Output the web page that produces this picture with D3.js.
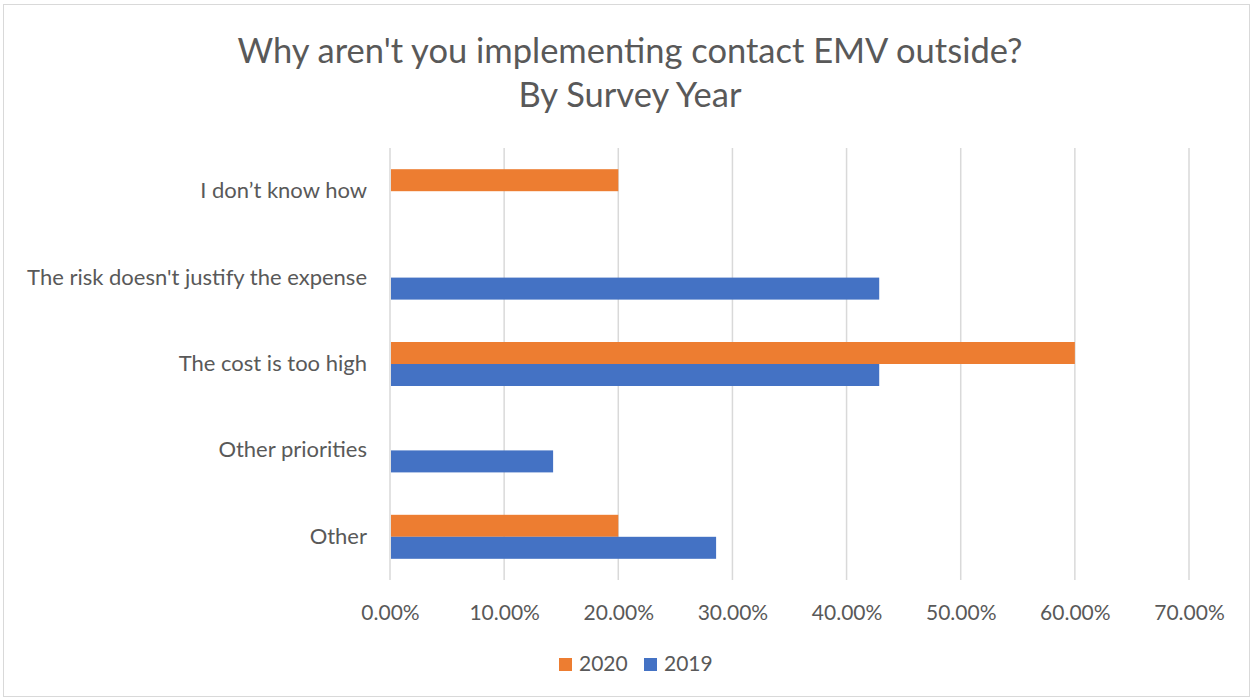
<!DOCTYPE html>
<html><head><meta charset="utf-8">
<script src="https://cdn.jsdelivr.net/npm/d3@7"></script>
<style>body{margin:0;background:#fff}svg{display:block;font-family:Lato,"Open Sans",sans-serif}</style>
</head><body><svg id="c" width="1253" height="700"></svg>
<script>
const categories = ["I don\u2019t know how","The risk doesn't justify the expense","The cost is too high","Other priorities","Other"];
const series = ["2020","2019"];
const values2020 = [0.20, 0, 0.60, 0, 0.20];
const values2019 = [0, 0.4286, 0.4286, 0.1429, 0.2857];
const xTicks = [0,0.1,0.2,0.3,0.4,0.5,0.6,0.7];
const colors = {"2020":"#ED7D31","2019":"#4472C4"};
const FONT = "Lato,\"Open Sans\",sans-serif";

const svg = d3.select("#c");
svg.append("rect").attr("x",3.5).attr("y",4.5).attr("width",1246).attr("height",692)
  .attr("fill","#fff").attr("stroke","#d9d9d9");

const x = d3.scaleLinear().domain([0,0.7]).range([390,1189]);
const y = d3.scaleBand().domain(categories).range([148,580]);
const groupH = 44;
const yi = d3.scaleBand().domain(series).range([(y.bandwidth()-groupH)/2,(y.bandwidth()+groupH)/2]);

svg.append("g").selectAll("line").data(xTicks).join("line")
  .attr("x1",d=>x(d)).attr("x2",d=>x(d)).attr("y1",148).attr("y2",580)
  .attr("stroke","#d9d9d9").attr("stroke-width",1.5);

const xa = svg.append("g").attr("transform","translate(0,580)")
  .call(d3.axisBottom(x).tickValues(xTicks).tickFormat(d=>(d*100).toFixed(2)+"%").tickSize(0).tickPadding(25));
xa.select(".domain").remove();
xa.selectAll("text").attr("fill","#595959").style("font-size","21px").style("font-family",FONT);

const ya = svg.append("g").attr("transform","translate(390,0)")
  .call(d3.axisLeft(y).tickSize(0).tickPadding(23));
ya.select(".domain").remove();
ya.selectAll("text").attr("fill","#595959").style("font-size","22px").style("font-family",FONT);

const data = [];
categories.forEach((c,i)=>{
  data.push({c, s:"2020", v:values2020[i]});
  data.push({c, s:"2019", v:values2019[i]});
});
svg.append("g").selectAll("rect").data(data.filter(d=>d.v>0)).join("rect")
  .attr("x",x(0)+1).attr("y",d=>y(d.c)+yi(d.s))
  .attr("width",d=>x(d.v)-x(0)-1).attr("height",yi.bandwidth())
  .attr("fill",d=>colors[d.s]);

svg.append("text").attr("x",630).attr("y",63).attr("text-anchor","middle")
  .attr("fill","#595959").style("font-size","34.5px").text("Why aren't you implementing contact EMV outside?");
svg.append("text").attr("x",630).attr("y",107).attr("text-anchor","middle")
  .attr("fill","#595959").style("font-size","34.5px").text("By Survey Year");

const leg = svg.append("g");
const legX = [559,644];
series.forEach((s,i)=>{
  leg.append("rect").attr("x",legX[i]).attr("y",658).attr("width",13).attr("height",13).attr("fill",colors[s]);
  leg.append("text").attr("x",legX[i]+20).attr("y",671).attr("fill","#595959").style("font-size","21px").text(s);
});
</script></body></html>
